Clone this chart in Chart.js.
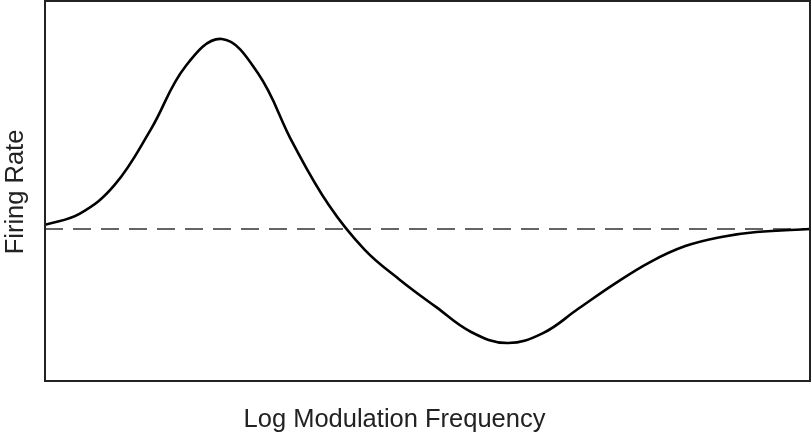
<!DOCTYPE html>
<html>
<head>
<meta charset="utf-8">
<script src="https://cdn.jsdelivr.net/npm/chart.js@4"></script>
<style>
  html, body { margin: 0; padding: 0; background: #fff; }
  #wrap { width: 812px; height: 436px; }
</style>
</head>
<body>
<div id="wrap"><canvas id="rate-chart"></canvas></div>
<script>
// log frequency (arbitrary units 0..100) and firing rate (arbitrary units)
var freqX = [0, 4.5, 9.1, 13.8, 18.4, 23.1, 27.8, 32.4, 37.1, 41.8, 46.4, 51.1, 55.7, 60.4,
             65.1, 69.7, 74.4, 79.1, 83.7, 88.4, 93.0, 100];
var rateY = [41.1, 44.0, 51.6, 66.1, 82.9, 90.0, 81.1, 62.6, 46.3, 34.5, 26.6, 19.5, 12.9, 10.0,
             12.6, 19.0, 25.5, 31.3, 35.5, 37.9, 39.2, 40.0];
var baselineX = [0, 100];
var baselineY = [40, 40];
var xTitle = 'Log Modulation Frequency';
var yTitle = 'Firing Rate';

function pts(xs, ys) {
  return xs.map(function(x, i) { return { x: x, y: ys[i] }; });
}

// frame + axis labels drawn by hand
var frameAndLabels = {
  id: 'frameAndLabels',
  afterDraw: function(chart) {
    var c = chart.ctx, a = chart.chartArea;
    c.save();
    c.strokeStyle = '#222';
    c.lineWidth = 2;
    c.strokeRect(a.left, a.top, a.right - a.left, a.bottom - a.top);
    c.fillStyle = '#222';
    c.font = '25.5px "Liberation Sans", Arial, sans-serif';
    c.textAlign = 'center';
    c.textBaseline = 'alphabetic';
    c.fillText(xTitle, 394.5, 427);
    c.translate(23, 192);
    c.rotate(-Math.PI / 2);
    c.fillText(yTitle, 0, 0);
    c.restore();
  }
};

var ctx = document.getElementById('rate-chart').getContext('2d');
new Chart(ctx, {
  type: 'line',
  data: {
    datasets: [{
      data: pts(freqX, rateY),
      borderColor: '#000',
      borderWidth: 2.6,
      pointRadius: 0,
      tension: 0.4,
      fill: false
    }, {
      data: pts(baselineX, baselineY),
      borderColor: '#333',
      borderWidth: 1.5,
      borderDash: [18, 10],
      pointRadius: 0,
      fill: false
    }]
  },
  options: {
    responsive: true,
    maintainAspectRatio: false,
    animation: false,
    layout: { padding: { left: 45, top: 1, right: 2, bottom: 55 } },
    scales: {
      x: { type: 'linear', min: 0, max: 100, display: false },
      y: { min: 0, max: 100, display: false }
    },
    plugins: {
      legend: { display: false },
      tooltip: { enabled: false }
    }
  },
  plugins: [frameAndLabels]
});
</script>
</body>
</html>
